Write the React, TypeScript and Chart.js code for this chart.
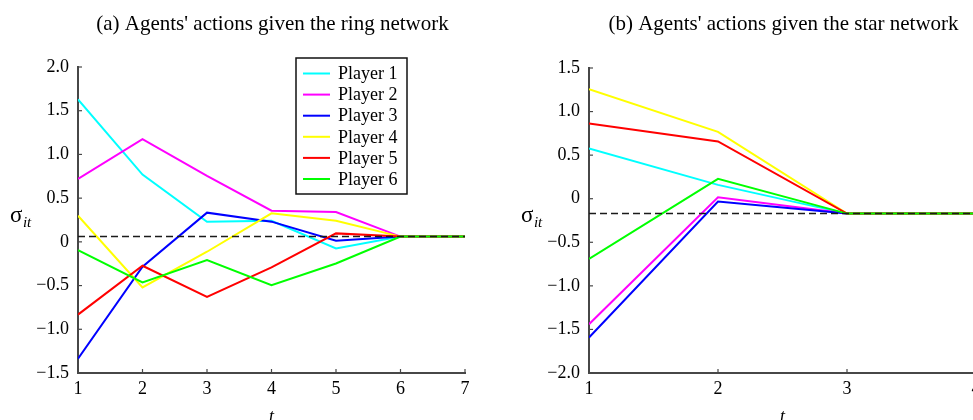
import React, { useEffect, useRef } from 'react';
import { Chart, registerables } from 'chart.js';

Chart.register(...registerables);

// ---------- data ----------
const playerNames = ['Player 1', 'Player 2', 'Player 3', 'Player 4', 'Player 5', 'Player 6'];
const playerColors = ['#00FFFF', '#FF00FF', '#0000FF', '#FFFF00', '#FF0000', '#00FF00'];

// (a) ring network
const ringT = [1, 2, 3, 4, 5, 6, 7];
const ringP1 = [1.63, 0.77, 0.23, 0.24, -0.075, 0.06, 0.06];
const ringP2 = [0.72, 1.175, 0.755, 0.357, 0.342, 0.06, 0.06];
const ringP3 = [-1.336, -0.285, 0.334, 0.231, 0.013, 0.06, 0.06];
const ringP4 = [0.3, -0.522, -0.113, 0.326, 0.242, 0.06, 0.06];
const ringP5 = [-0.832, -0.273, -0.629, -0.293, 0.097, 0.06, 0.06];
const ringP6 = [-0.094, -0.465, -0.209, -0.495, -0.247, 0.06, 0.06];
const ringEquilibrium = 0.06;
const ringYTicks = [-1.5, -1.0, -0.5, 0, 0.5, 1.0, 1.5, 2.0];

// (b) star network
const starT = [1, 2, 3, 4];
const starP1 = [0.576, 0.159, -0.171, -0.171];
const starP2 = [-1.44, 0.017, -0.171, -0.171];
const starP3 = [-1.592, -0.033, -0.171, -0.171];
const starP4 = [1.258, 0.768, -0.171, -0.171];
const starP5 = [0.864, 0.657, -0.171, -0.171];
const starP6 = [-0.692, 0.228, -0.171, -0.171];
const starEquilibrium = -0.171;
const starYTicks = [-2.0, -1.5, -1.0, -0.5, 0, 0.5, 1.0, 1.5];

const titleA = "(a) Agents' actions given the ring network";
const titleB = "(b) Agents' actions given the star network";

// ---------- styling ----------
const SERIF = '"Liberation Serif", "Times New Roman", Times, serif';
const AXIS_COLOR = '#474747';

function fmtTick(v: number): string {
  if (Math.abs(v) < 1e-9) return '0';
  return (v < 0 ? '\u2212' : '') + Math.abs(v).toFixed(1);
}

type Cfg = {
  width: number;
  height: number;
  t: number[];
  series: number[][];
  eq: number;
  yTicks: number[];
  title: string;
  legend: boolean;
  pad: { left: number; right: number; top: number; bottom: number };
};

function makePlugin(cfg: Cfg) {
  return {
    id: 'decor',
    afterDatasetsDraw(chart: any) {
      const { ctx, chartArea: a, scales } = chart;
      const y = scales.y.getPixelForValue(cfg.eq);
      ctx.save();
      ctx.beginPath();
      ctx.setLineDash([7, 4]);
      ctx.strokeStyle = '#1a1a1a';
      ctx.lineWidth = 1.5;
      ctx.moveTo(a.left, y);
      ctx.lineTo(a.right, y);
      ctx.stroke();
      ctx.restore();
    },
    afterDraw(chart: any) {
      const { ctx, chartArea: a, scales } = chart;
      ctx.save();
      // inward ticks
      ctx.strokeStyle = AXIS_COLOR;
      ctx.lineWidth = 1.2;
      ctx.setLineDash([]);
      scales.x.ticks.forEach((tk: any) => {
        const px = scales.x.getPixelForValue(tk.value);
        ctx.beginPath();
        ctx.moveTo(px, a.bottom);
        ctx.lineTo(px, a.bottom - 4);
        ctx.stroke();
      });
      scales.y.ticks.forEach((tk: any) => {
        const py = scales.y.getPixelForValue(tk.value);
        ctx.beginPath();
        ctx.moveTo(a.left, py);
        ctx.lineTo(a.left + 4, py);
        ctx.stroke();
      });

      // title
      const cx = (a.left + a.right) / 2 + 1;
      ctx.fillStyle = '#000';
      ctx.font = `21px ${SERIF}`;
      ctx.textAlign = 'center';
      ctx.textBaseline = 'alphabetic';
      ctx.fillText(cfg.title, cx, 30);

      // x label
      ctx.font = `italic 18px ${SERIF}`;
      ctx.fillText('t', (a.left + a.right) / 2, 422);

      // y label sigma_it
      const lx = a.left - 68;
      ctx.textAlign = 'left';
      ctx.font = `23px ${SERIF}`;
      ctx.fillText('\u03C3', lx, 222);
      const sw = ctx.measureText('\u03C3').width;
      ctx.font = `italic 15px ${SERIF}`;
      ctx.fillText('it', lx + sw + 0.5, 227);

      // legend
      if (cfg.legend) {
        const bx = 296, by = 58, bw = 111, bh = 136;
        ctx.fillStyle = '#fff';
        ctx.fillRect(bx, by, bw, bh);
        ctx.strokeStyle = '#111';
        ctx.lineWidth = 1.5;
        ctx.strokeRect(bx, by, bw, bh);
        ctx.font = `18px ${SERIF}`;
        ctx.textBaseline = 'middle';
        playerNames.forEach((name, i) => {
          const yy = 73.5 + i * 21.1;
          ctx.strokeStyle = playerColors[i];
          ctx.lineWidth = 2;
          ctx.beginPath();
          ctx.moveTo(303, yy);
          ctx.lineTo(330, yy);
          ctx.stroke();
          ctx.fillStyle = '#000';
          ctx.fillText(name, 338, yy + 1);
        });
      }
      ctx.restore();
    },
  };
}

function Panel({ cfg, left }: { cfg: Cfg; left: number }) {
  const ref = useRef<HTMLCanvasElement | null>(null);
  useEffect(() => {
    if (!ref.current) return;
    const datasets = cfg.series.map((vals, i) => ({
      label: playerNames[i],
      data: vals.map((v, k) => ({ x: cfg.t[k], y: v })),
      borderColor: playerColors[i],
      backgroundColor: playerColors[i],
      borderWidth: 2,
      pointRadius: 0,
      tension: 0,
      fill: false,
      order: cfg.series.length - i,
    }));
    const tMin = cfg.t[0];
    const tMax = cfg.t[cfg.t.length - 1];
    const yMin = cfg.yTicks[0];
    const yMax = cfg.yTicks[cfg.yTicks.length - 1];
    const chart = new Chart(ref.current, {
      type: 'line',
      data: { datasets },
      options: {
        responsive: false,
        animation: false,
        devicePixelRatio: 1,
        layout: { padding: { left: 0, right: cfg.pad.right, top: cfg.pad.top, bottom: 0 } },
        plugins: { legend: { display: false }, tooltip: { enabled: false }, title: { display: false } },
        scales: {
          x: {
            type: 'linear',
            min: tMin,
            max: tMax,
            afterFit: (s: any) => { s.height = cfg.pad.bottom; },
            ticks: {
              stepSize: 1,
              padding: 5,
              color: '#000',
              font: { family: SERIF, size: 18 },
              maxRotation: 0,
              callback: (v: any) => String(v),
            },
            grid: { drawOnChartArea: false, drawTicks: false },
            border: { display: true, color: AXIS_COLOR, width: 2 },
          },
          y: {
            type: 'linear',
            min: yMin,
            max: yMax,
            afterFit: (s: any) => { s.width = cfg.pad.left; },
            afterBuildTicks: (s: any) => { s.ticks = cfg.yTicks.map((v) => ({ value: v })); },
            ticks: {
              padding: 9,
              color: '#000',
              font: { family: SERIF, size: 18 },
              callback: (v: any) => fmtTick(Number(v)),
            },
            grid: { drawOnChartArea: false, drawTicks: false },
            border: { display: true, color: AXIS_COLOR, width: 2 },
          },
        },
      },
      plugins: [makePlugin(cfg)],
    } as any);
    return () => chart.destroy();
  }, []);
  return (
    <canvas
      ref={ref}
      width={cfg.width}
      height={cfg.height}
      style={{ position: 'absolute', left, top: 0, width: cfg.width, height: cfg.height }}
    />
  );
}

const cfgA: Cfg = {
  width: 490,
  height: 420,
  t: ringT,
  series: [ringP1, ringP2, ringP3, ringP4, ringP5, ringP6],
  eq: ringEquilibrium,
  yTicks: ringYTicks,
  title: titleA,
  legend: true,
  pad: { left: 78, right: 25, top: 67, bottom: 47 },
};

const cfgB: Cfg = {
  width: 500,
  height: 420,
  t: starT,
  series: [starP1, starP2, starP3, starP4, starP5, starP6],
  eq: starEquilibrium,
  yTicks: starYTicks,
  title: titleB,
  legend: false,
  pad: { left: 99, right: 14, top: 68, bottom: 47 },
};

export default function App() {
  return (
    <div
      style={{
        position: 'fixed',
        left: 0,
        top: 0,
        width: 973,
        height: 420,
        overflow: 'hidden',
        background: '#fff',
      }}
    >
      <Panel cfg={cfgA} left={0} />
      <Panel cfg={cfgB} left={490} />
    </div>
  );
}
